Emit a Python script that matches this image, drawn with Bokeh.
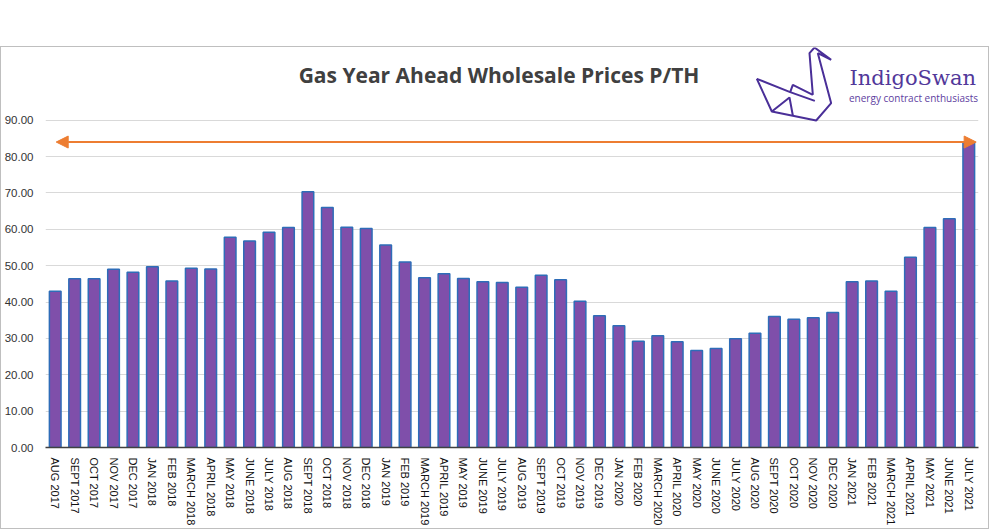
from bokeh.plotting import figure
from bokeh.models import (ColumnDataSource, FixedTicker, NumeralTickFormatter, Range1d,
                          Arrow, NormalHead, Label, PolyAnnotation)
from bokeh.embed import file_html
from bokeh.resources import INLINE

months = ["AUG 2017", "SEPT 2017", "OCT 2017", "NOV 2017", "DEC 2017",
          "JAN 2018", "FEB 2018", "MARCH 2018", "APRIL 2018", "MAY 2018", "JUNE 2018",
          "JULY 2018", "AUG 2018", "SEPT 2018", "OCT 2018", "NOV 2018", "DEC 2018",
          "JAN 2019", "FEB 2019", "MARCH 2019", "APRIL 2019", "MAY 2019", "JUNE 2019",
          "JULY 2019", "AUG 2019", "SEPT 2019", "OCT 2019", "NOV 2019", "DEC 2019",
          "JAN 2020", "FEB 2020", "MARCH 2020", "APRIL 2020", "MAY 2020", "JUNE 2020",
          "JULY 2020", "AUG 2020", "SEPT 2020", "OCT 2020", "NOV 2020", "DEC 2020",
          "JAN 2021", "FEB 2021", "MARCH 2021", "APRIL 2021", "MAY 2021", "JUNE 2021",
          "JULY 2021"]
prices = [43.0, 46.4, 46.4, 49.0, 48.2,
          49.7, 45.8, 49.3, 49.1, 57.8, 56.8,
          59.2, 60.5, 70.3, 66.0, 60.6, 60.2,
          55.7, 51.0, 46.7, 47.8, 46.5, 45.6,
          45.4, 44.1, 47.4, 46.1, 40.2, 36.2,
          33.5, 29.2, 30.7, 29.1, 26.7, 27.2,
          29.9, 31.4, 36.0, 35.3, 35.7, 37.1,
          45.6, 45.8, 43.0, 52.3, 60.5, 62.9,
          84.0]
y_ticks = [0, 10, 20, 30, 40, 50, 60, 70, 80, 90]

title_text = "Gas Year Ahead Wholesale Prices P/TH"
brand = "IndigoSwan"
tagline = "energy contract enthusiasts"

# logo outline (decoration) in logo-local pixel units (3x)
swan_paths = [
    [(22, 112), (67, 210), (200, 237), (245, 185), (205, 35), (245, 55), (195, 18), (180, 35), (190, 160)],
    [(190, 160), (130, 130), (122, 152)],
    [(22, 112), (122, 152), (196, 178)],
    [(67, 210), (120, 168), (130, 222)],
]

src = ColumnDataSource(dict(month=months, price=prices))

p = figure(x_range=months, y_range=Range1d(0, 110), frame_width=933, frame_height=400,
           output_backend="svg", toolbar_location=None,
           min_border_left=36, min_border_right=10, min_border_top=0,
           min_border_bottom=10, background_fill_color="white",
           border_fill_color="white", outline_line_color=None)
p.styles = {"margin-top": "46px", "border": "1.5px solid #BFBFBF"}

p.vbar(x="month", top="price", width=0.6, source=src,
       fill_color="#7F4FAA", line_color="#2E6DB8", line_width=1.5)

p.x_range.range_padding = 0
p.yaxis.ticker = FixedTicker(ticks=y_ticks)
p.yaxis.formatter = NumeralTickFormatter(format="0.00")
p.yaxis.axis_line_color = None
p.yaxis.major_tick_line_color = None
p.yaxis.minor_tick_line_color = None
p.yaxis.major_label_text_font = "Liberation Sans"
p.yaxis.major_label_text_font_size = "11.5px"
p.yaxis.major_label_text_color = "#333333"
p.yaxis.major_label_standoff = 6

p.xaxis.axis_line_color = "#404040"
p.xaxis.axis_line_width = 1.5
p.xaxis.major_tick_line_color = None
p.xaxis.minor_tick_line_color = None
p.xaxis.major_label_orientation = "vertical"
p.xaxis.major_label_text_font = "Liberation Sans"
p.xaxis.major_label_text_font_size = "11px"
p.xaxis.major_label_text_color = "#111111"
p.xaxis.major_label_standoff = 4

p.xgrid.grid_line_color = None
p.ygrid.grid_line_color = "#D9D9D9"
p.ygrid.grid_line_width = 1

# arrow at latest price level
n = len(months)
p.add_layout(Arrow(x_start=0.55, x_end=n - 0.12, y_start=prices[-1], y_end=prices[-1],
                   line_color="#ED7D31", line_width=2,
                   start=NormalHead(size=12, fill_color="#ED7D31", line_color="#ED7D31"),
                   end=NormalHead(size=12, fill_color="#ED7D31", line_color="#ED7D31")))

# title
p.add_layout(Label(x=496.5, y=26, x_units="canvas", y_units="canvas", text=title_text,
                   text_align="center", text_baseline="alphabetic",
                   text_font="Open Sans", text_font_style="bold", text_font_size="21px",
                   text_color="#404040"))

# logo
for path in swan_paths:
    pts = path + path[-2:0:-1]
    p.add_layout(PolyAnnotation(xs=[747 + a / 3 for a, b in pts], ys=[-7 + b / 3 for a, b in pts],
                                xs_units="canvas", ys_units="canvas",
                                fill_alpha=0, line_color="#4A2F98", line_alpha=1.0,
                                line_width=2))
p.add_layout(Label(x=847, y=29.5, x_units="canvas", y_units="canvas", text=brand,
                   text_baseline="alphabetic", text_font="DejaVu Serif",
                   text_font_size="21px", text_color="#52389A"))
p.add_layout(Label(x=846.5, y=49, x_units="canvas", y_units="canvas", text=tagline,
                   text_baseline="alphabetic", text_font="Open Sans",
                   text_font_size="10px", text_color="#5E40A0"))

open("out.html", "w").write(file_html(p, INLINE))
